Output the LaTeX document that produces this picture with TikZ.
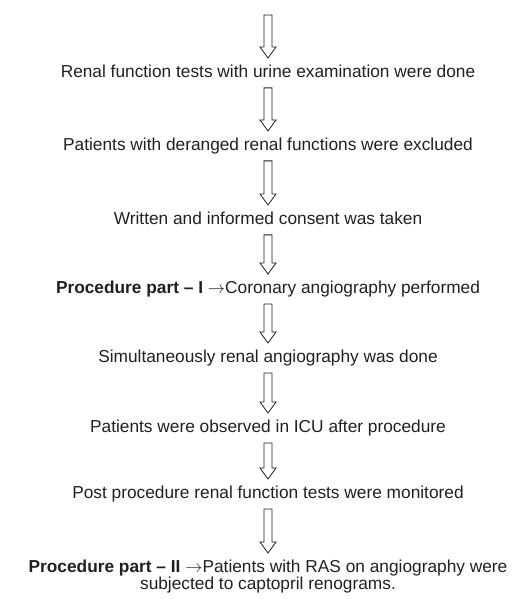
\documentclass[tikz,border=0pt]{standalone}
\usepackage{fontspec}
\setmainfont{Liberation Sans}
\usetikzlibrary{calc}
\definecolor{inkgray}{RGB}{35,31,32}
\tikzset{
  steptext/.style={anchor=north, inner sep=0pt, text height=12bp, text depth=3.5bp,
    text=inkgray, font=\fontsize{17.3bp}{17bp}\selectfont},
  lasttext/.style={anchor=north, inner sep=0pt, align=center,
    text=inkgray, font=\fontsize{17.3bp}{17bp}\selectfont},
  blockline/.style={draw=inkgray, line width=0.8bp},
}
\newcommand{\blockarrow}[2]{%
  \draw[blockline] let \p1=(#1), \p2=(#2) in
    (\x1-4bp,\y1) -- (\x1+4bp,\y1) -- (\x1+4bp,\y2+11bp) -- (\x1+8bp,\y2+11bp)
    -- (\x1,\y2) -- (\x1-8bp,\y2+11bp) -- (\x1-4bp,\y2+11bp) -- cycle;}
\begin{document}
\begin{tikzpicture}[x=1bp,y=1bp]
\def\midx{268}
\def\gap{7bp}
\useasboundingbox (0,0) rectangle (529,-599);

\coordinate (top) at (\midx,-15);
\node[steptext] (t1) at (\midx,-65) {Renal function tests with urine examination were done};
\node[steptext] (t2) at (\midx,-138) {Patients with deranged renal functions were excluded};
\node[steptext] (t3) at (\midx,-212) {Written and informed consent was taken};
\node[steptext] (t4) at (\midx,-281) {\textbf{Procedure part – I} $\rightarrow$Coronary angiography performed};
\node[steptext] (t5) at (\midx,-350) {Simultaneously renal angiography was done};
\node[steptext] (t6) at (\midx,-420) {Patients were observed in ICU after procedure};
\node[steptext] (t7) at (\midx,-486) {Post procedure renal function tests were monitored};
\node[lasttext] (t8) at (\midx,-560) {\textbf{Procedure part – II} $\rightarrow$Patients with RAS on angiography were\\subjected to captopril renograms.};

% block arrows between the steps
\blockarrow{top}{$(t1.north)+(0,\gap)$}
\blockarrow{$(t1.south)+(0,-\gap)$}{$(t2.north)+(0,\gap)$}
\blockarrow{$(t2.south)+(0,-\gap)$}{$(t3.north)+(0,\gap)$}
\blockarrow{$(t3.south)+(0,-\gap)$}{$(t4.north)+(0,\gap)$}
\blockarrow{$(t4.south)+(0,-\gap)$}{$(t5.north)+(0,\gap)$}
\blockarrow{$(t5.south)+(0,-\gap)$}{$(t6.north)+(0,\gap)$}
\blockarrow{$(t6.south)+(0,-\gap)$}{$(t7.north)+(0,\gap)$}
\blockarrow{$(t7.south)+(0,-\gap)$}{$(t8.north)+(0,\gap)$}
\end{tikzpicture}
\end{document}
